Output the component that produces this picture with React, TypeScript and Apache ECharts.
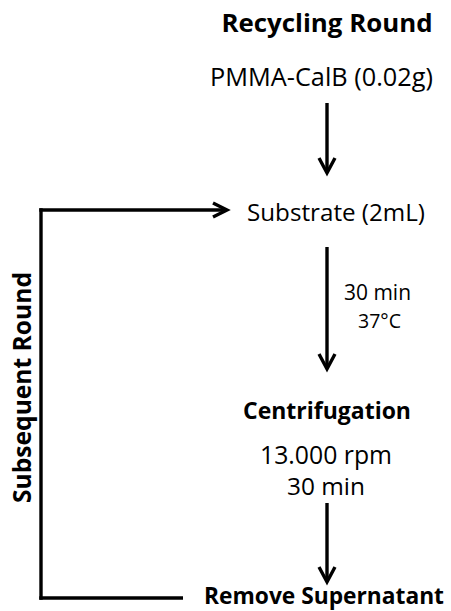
import React, { useEffect, useRef } from "react";
import * as echarts from "echarts";

const titleLabels = ["Recycling Round"];
const stepLabels = ["PMMA-CalB (0.02g)", "Substrate (2mL)"];
const conditionLabels = ["30 min", "37°C"];
const centrifugeTitle = ["Centrifugation"];
const centrifugeDetails = ["13.000 rpm", "30 min"];
const finalStep = ["Remove Supernatant"];
const loopLabel = ["Subsequent Round"];

const FONT = "'Open Sans', Lato, sans-serif";
const INK = "#000000";
const LW = 3.4;

let ctx: CanvasRenderingContext2D | null = null;
function fitSize(text: string, bold: boolean, width: number) {
  if (!ctx) ctx = document.createElement("canvas").getContext("2d");
  ctx!.font = `${bold ? "bold " : ""}100px ${FONT}`;
  const w = ctx!.measureText(text).width;
  return (100 * width) / w;
}

function txt(text: string, cx: number, cy: number, width: number, bold: boolean, extra: any = {}) {
  const size = fitSize(text, bold, width);
  return {
    type: "text",
    x: cx,
    y: cy,
    ...extra,
    style: {
      text,
      fill: INK,
      font: `${bold ? "bold " : ""}${size.toFixed(2)}px ${FONT}`,
      textAlign: "center",
      textVerticalAlign: "middle",
    },
  };
}

function line(x1: number, y1: number, x2: number, y2: number) {
  return {
    type: "line",
    shape: { x1, y1, x2, y2 },
    style: { stroke: INK, lineWidth: LW, lineCap: "butt" },
  };
}

function downArrow(x: number, y1: number, y2: number) {
  return [
    line(x, y1, x, y2 - 2),
    {
      type: "polyline",
      shape: { points: [[x - 8, y2 - 15], [x, y2], [x + 8, y2 - 15]] },
      style: { stroke: INK, lineWidth: LW, fill: "none", lineJoin: "miter" },
    },
  ];
}

function rightArrow(x1: number, x2: number, y: number) {
  return [
    line(x1, y, x2 - 2, y),
    {
      type: "polyline",
      shape: { points: [[x2 - 14, y - 7], [x2, y], [x2 - 14, y + 7]] },
      style: { stroke: INK, lineWidth: LW, fill: "none", lineJoin: "miter" },
    },
  ];
}

export default function App() {
  const ref = useRef<HTMLDivElement>(null);
  useEffect(() => {
    document.body.style.margin = "0";
    const chart = echarts.init(ref.current!, null, { renderer: "svg" });
    const elements: any[] = [
      txt(titleLabels[0], 327, 22, 211, true),
      txt(stepLabels[0], 321.5, 76, 223, false),
      ...downArrow(327, 103, 173),
      txt(stepLabels[1], 336, 211, 178, false),
      ...rightArrow(39.3, 227, 210),
      line(41, 208.3, 41, 599.7),
      line(39.3, 598, 183, 598),
      ...downArrow(327, 247, 369),
      txt(conditionLabels[0], 377.5, 292, 67, false),
      txt(conditionLabels[1], 379.5, 320, 43, false),
      txt(centrifugeTitle[0], 327, 410, 168, true),
      txt(centrifugeDetails[0], 326, 454, 132, false),
      txt(centrifugeDetails[1], 326, 485, 78, false),
      ...downArrow(327, 503, 582),
      txt(finalStep[0], 324, 595.5, 240, true),
      txt(loopLabel[0], 21, 387.5, 231, true, { rotation: Math.PI / 2 }),
    ];
    chart.setOption({
      animation: false,
      backgroundColor: "#ffffff",
      graphic: { elements },
    });
    return () => chart.dispose();
  }, []);
  return <div ref={ref} style={{ width: 451, height: 611 }} />;
}
